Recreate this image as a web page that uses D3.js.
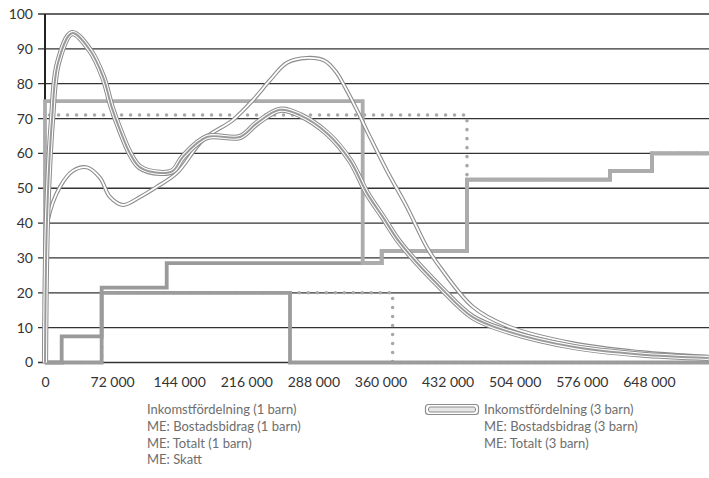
<!DOCTYPE html>
<html><head><meta charset="utf-8">
<script src="https://cdn.jsdelivr.net/npm/d3@7"></script>
<style>
html,body{margin:0;padding:0;background:#fff;}
svg{display:block;font-family:Lato,"Open Sans",sans-serif;}
</style></head>
<body><svg id="c" width="709" height="478"></svg>
<script>
// ---- data ----
const xTicks = [0, 72000, 144000, 216000, 288000, 360000, 432000, 504000, 576000, 648000];
const yTicks = [0, 10, 20, 30, 40, 50, 60, 70, 80, 90, 100];

// Income distribution curves (x = income, y = value)
const inc1X = [0, 3200, 16100, 30000, 45000, 59000, 69700, 83700, 102000, 120000, 141600, 170000, 201700, 223200, 241400, 259700, 281100, 300000, 312000, 322000, 334800, 348700, 367000, 388400, 409900, 423800, 459000, 495700, 566500, 638400, 712000];
const inc1Y = [30, 41, 50.4, 55, 56, 53, 47.5, 45.2, 47.5, 50.4, 54.4, 64, 69.6, 75.3, 81, 86, 87.4, 86.6, 83.5, 79, 72.4, 64.7, 55, 44.6, 33, 27.4, 16, 10.5, 5.5, 3, 1.6];

const inc3X = [0, 2146, 7500, 14000, 29000, 48300, 62200, 71900, 80500, 91200, 102000, 123400, 137300, 148000, 173800, 209200, 227500, 252000, 273600, 302600, 327300, 345500, 362700, 381000, 423800, 459000, 495700, 566500, 638400, 712000];
const inc3Y = [0, 41, 69.6, 86, 94.5, 89.6, 82, 73, 66.7, 60, 56, 54.4, 55, 59, 64.7, 64.7, 68.7, 72.5, 71, 65.8, 58, 48.6, 41.7, 34.3, 21.7, 13, 9, 4.5, 2.3, 1.3];

// Marginal effect step series (value holds until next break)
const skattX = [0, 17900, 60800, 130600, 361300, 452800, 606200, 651300, 712500];
const skattY = [0, 7.5, 21.5, 28.5, 32, 52.5, 55, 60, 60];
const tot1X = [0, 0, 340900, 361300, 452800, 606200, 651300, 712500];
const tot1Y = [0, 75, 28.5, 32, 52.5, 55, 60, 60];
const tot3X = [0, 0, 452800, 606200, 651300, 712500];
const tot3Y = [0, 71, 52.5, 55, 60, 60];
const bost1X = [0, 60800, 262900, 712500];
const bost1Y = [0, 20, 0, 0];
const bost3X = [0, 60800, 373000, 712500];
const bost3Y = [0, 20, 0, 0];

const legendLeft = ["Inkomstfördelning (1 barn)", "ME: Bostadsbidrag (1 barn)", "ME: Totalt (1 barn)", "ME: Skatt"];
const legendRight = ["Inkomstfördelning (3 barn)", "ME: Bostadsbidrag (3 barn)", "ME: Totalt (3 barn)"];

// ---- chart ----
const svg = d3.select("#c");
const x = d3.scaleLinear().domain([0, 712500]).range([45, 709]);
const y = d3.scaleLinear().domain([0, 100]).range([362.5, 14]);
const zip = (xs, ys) => xs.map((v, i) => [v, ys[i]]);

// gridlines
svg.append("g").selectAll("line").data(yTicks).join("line")
  .attr("x1", 38).attr("x2", 709)
  .attr("y1", d => y(d)).attr("y2", d => y(d))
  .attr("stroke", "#333").attr("stroke-width", 1.3);

// y axis
const ya = svg.append("g").attr("transform", "translate(45,0)")
  .call(d3.axisLeft(y).tickValues(yTicks).tickSize(0).tickPadding(12).tickFormat(d3.format("d")));
ya.select(".domain").remove();
ya.selectAll("text").attr("font-size", 14).attr("fill", "#333").attr("font-family", "Lato, sans-serif");

// x axis
const xa = svg.append("g").attr("transform", "translate(0,362.5)")
  .call(d3.axisBottom(x).tickValues(xTicks).tickSize(0).tickPadding(15)
    .tickFormat(d => d3.format(",")(d).replace(/,/g, " ")));
xa.select(".domain").remove();
xa.selectAll("text").attr("font-size", 14).attr("fill", "#333").attr("font-family", "Lato, sans-serif");

// left axis line
svg.append("line").attr("x1", 45).attr("x2", 45).attr("y1", y(100)).attr("y2", y(0) + 1)
  .attr("stroke", "#222").attr("stroke-width", 2);

const step = d3.line().x(d => x(d[0])).y(d => y(d[1])).curve(d3.curveStepAfter);
const smooth = d3.line().x(d => x(d[0])).y(d => y(d[1])).curve(d3.curveCatmullRom.alpha(0.5));

function stepPath(data, color, dotted) {
  const p = svg.append("path").attr("d", step(data)).attr("fill", "none")
    .attr("stroke", color).attr("stroke-width", dotted ? 3.6 : 3.8);
  if (dotted) p.attr("stroke-dasharray", "0 9").attr("stroke-linecap", "round");
  else p.attr("stroke-linejoin", "miter");
}
stepPath(zip(bost3X, bost3Y), "#a8a8a8", true);
stepPath(zip(tot3X, tot3Y), "#a8a8a8", true);
stepPath(zip(bost1X, bost1Y), "#9c9c9c", false);
stepPath(zip(skattX, skattY), "#9a9a9a", false);
stepPath(zip(tot1X, tot1Y), "#acacac", false);

// curves
function thinCurve(data) {
  svg.append("path").attr("d", smooth(data)).attr("fill", "none").attr("stroke", "#8c8c8c").attr("stroke-width", 4);
  svg.append("path").attr("d", smooth(data)).attr("fill", "none").attr("stroke", "#fff").attr("stroke-width", 1.8);
}
function thickCurve(data) {
  svg.append("path").attr("d", smooth(data)).attr("fill", "none").attr("stroke", "#8c8c8c").attr("stroke-width", 6.2);
  svg.append("path").attr("d", smooth(data)).attr("fill", "none").attr("stroke", "#fff").attr("stroke-width", 4.2);
  svg.append("path").attr("d", smooth(data)).attr("fill", "none").attr("stroke", "#9a9a9a").attr("stroke-width", 2);
}
thinCurve(zip(inc1X, inc1Y));
thickCurve(zip(inc3X, inc3Y));

// legend
const lg = svg.append("g").attr("font-size", 13).attr("fill", "#6e6e6e").attr("font-family", "Lato, sans-serif");
lg.selectAll("text.l").data(legendLeft).join("text").attr("class", "l")
  .attr("x", 147).attr("y", (d, i) => 414 + i * 16.8).text(d => d);
lg.selectAll("text.r").data(legendRight).join("text").attr("class", "r")
  .attr("x", 484).attr("y", (d, i) => 414 + i * 16.8).text(d => d);
// legend symbol for 3 barn
svg.append("rect").attr("x", 425.5).attr("y", 404.5).attr("width", 53).attr("height", 10).attr("rx", 3)
  .attr("fill", "#fff").attr("stroke", "#8c8c8c").attr("stroke-width", 1.2);
svg.append("rect").attr("x", 428.5).attr("y", 407).attr("width", 47).attr("height", 5).attr("rx", 2)
  .attr("fill", "#e6e6e6").attr("stroke", "#8c8c8c").attr("stroke-width", 1);
</script></body></html>
